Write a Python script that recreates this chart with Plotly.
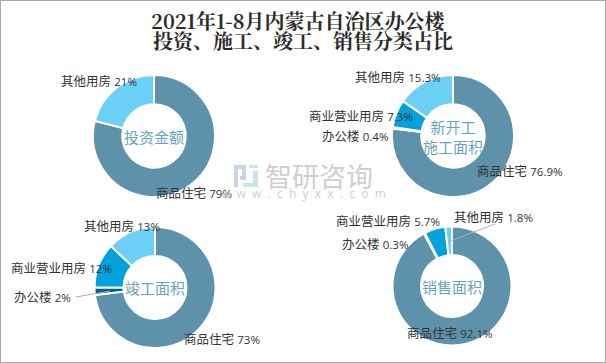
import plotly.graph_objects as go

W, H = 606, 363
categories = ["商品住宅", "办公楼", "商业营业用房", "其他用房"]
pie_names = ["投资金额", "新开工<br>施工面积", "竣工面积", "销售面积"]
invest = [79, 0, 0, 21]
new_start = [76.9, 0.4, 7.3, 15.3]
completed = [73, 2, 12, 13]
sales = [92.1, 0.3, 5.7, 1.8]
colors = ["#5e92aa", "#00618a", "#00a2dc", "#6bcff6"]
series = [invest, new_start, completed, sales]
title_lines = ["2021年1-8月内蒙古自治区办公楼", "投资、施工、竣工、销售分类占比"]

# layout: centre x, centre y, radius in pixels
geom = [(154, 136, 61), (453, 136, 61), (155, 287.5, 60.5), (452, 286, 59.5)]
# label left x and mid y, per series and category (None where no label)
label_pos = [
    [(156, 194), None, None, (61, 81)],
    [(477, 171), (322, 137), (309, 116), (355, 77)],
    [(184, 339), (14, 297), (11, 268), (84, 226)],
    [(407, 333), (342, 244), (336, 221), (454, 217)],
]
leaders = [(76, 297, 110, 291), (495, 224, 450, 241)]
title_centres = [(299, 20), (303, 40)]

fig = go.Figure()
ann = []
for vals, (cx, cy, r), name, lp in zip(series, geom, pie_names, label_pos):
    fig.add_trace(go.Pie(
        values=vals, labels=categories, sort=False, direction="clockwise", rotation=0,
        hole=0.52, textinfo="none", showlegend=False,
        marker=dict(colors=colors, line=dict(color="white", width=2)),
        domain=dict(x=[(cx - r) / W, (cx + r) / W], y=[1 - (cy + r) / H, 1 - (cy - r) / H]),
    ))
    ann.append(dict(x=cx / W, y=1 - cy / H, text=name, showarrow=False, xanchor="center", yanchor="middle",
                    font=dict(family="Noto Sans CJK SC", size=15, color="#6aa3c0")))
    for cat, v, p in zip(categories, vals, lp):
        if p is None:
            continue
        ann.append(dict(x=p[0] / W, y=1 - p[1] / H, showarrow=False, xanchor="left", yanchor="middle", xshift=-2,
                        text=f"{cat} <span style='font-size:11.5px'>{v}%</span>",
                        font=dict(family="Open Sans, Noto Sans CJK SC", size=12.5, color="#333333")))
for line, (tx, ty) in zip(title_lines, title_centres):
    ann.append(dict(x=tx / W, y=1 - ty / H, text=f"<b>{line}</b>", showarrow=False,
                    xanchor="center", yanchor="middle",
                    font=dict(family="Noto Serif CJK SC, Liberation Serif, Noto Sans CJK SC", size=20, color="#2b2b2b")))
ann.append(dict(x=319 / W, y=1 - 175 / H, text="智研咨询", showarrow=False, xanchor="center", yanchor="middle",
                font=dict(family="Noto Sans CJK SC", size=27, color="#cfcfcf")))
ann.append(dict(x=303 / W, y=1 - 194 / H, text="\u00a0\u00a0".join("www.chyxx.com"), showarrow=False,
                xanchor="center", yanchor="middle",
                font=dict(family="Open Sans", size=12, color="#cfcfcf")))

shapes = [dict(type="rect", xref="paper", yref="paper", x0=0, y0=0, x1=1, y1=1,
               line=dict(color="#a9a9a9", width=2), layer="above")]
for x0, y0, x1, y1 in leaders:
    shapes.append(dict(type="line", xref="paper", yref="paper", x0=x0 / W, x1=x1 / W, y0=1 - y0 / H, y1=1 - y1 / H,
                       line=dict(color="#b0b0b0", width=1), layer="above"))
# logo of the watermark
for x0, y0, x1, y1, c in [(234, 165, 246, 169, "#c9d3e6"), (242, 169, 246, 176, "#c9d3e6"), (234, 169, 238, 187, "#c9d3e6"),
                          (240, 176, 246, 180, "#c9d3e6"), (249, 165, 258, 168, "#c9e3f4"), (253, 171, 258, 184, "#c9e3f4"),
                          (243, 183, 258, 187, "#c9e3f4")]:
    shapes.append(dict(type="rect", xref="paper", yref="paper", x0=x0 / W, x1=x1 / W, y0=1 - y0 / H, y1=1 - y1 / H,
                       fillcolor=c, line=dict(width=0), layer="below"))

fig.update_layout(width=W, height=H, margin=dict(l=0, r=0, t=0, b=0), paper_bgcolor="white",
                  annotations=ann, shapes=shapes)
fig.write_html("out.html", post_script="document.body.style.margin='0';document.body.style.overflow='hidden';",
               config={"displayModeBar": False})
